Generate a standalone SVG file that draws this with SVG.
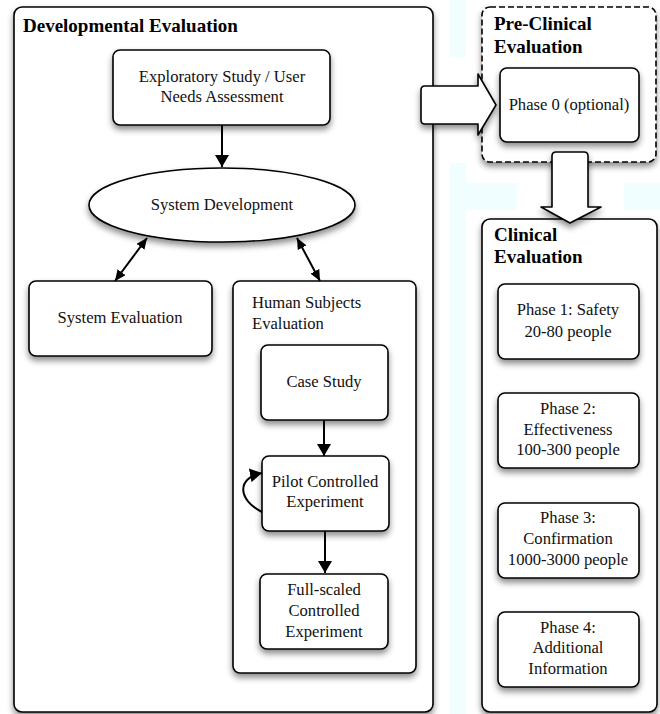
<svg xmlns="http://www.w3.org/2000/svg" width="660" height="714" viewBox="0 0 660 714">
<defs>
<filter id="sh" x="-20%" y="-20%" width="140%" height="140%">
<feDropShadow dx="0" dy="4" stdDeviation="3" flood-color="#000" flood-opacity="0.45"/>
</filter>
<marker id="ah" viewBox="0 0 12 14" refX="12" refY="7" markerWidth="12" markerHeight="14" markerUnits="userSpaceOnUse" orient="auto-start-reverse">
<path d="M0,0 L12,7 L0,14 z" fill="#000"/>
</marker>
<marker id="ah2" viewBox="0 0 11 10" refX="11" refY="5" markerWidth="11" markerHeight="10" markerUnits="userSpaceOnUse" orient="auto-start-reverse">
<path d="M0,0 L11,5 L0,10 z" fill="#000"/>
</marker>
</defs>
<style>
.box{fill:#fff;stroke:#000;stroke-width:1.6;filter:url(#sh)}
.t{font-family:"Liberation Serif","Times New Roman",serif;font-size:16.6px;fill:#111}
.c{text-anchor:middle}
.b{font-weight:bold;font-size:19px;fill:#000}
.ln{fill:none;stroke:#000;stroke-width:2}
.bg{fill:#f0feff}
</style>
<rect width="660" height="714" fill="#fff"/>
<g id="background">
<rect class="bg" x="450" y="0" width="16" height="57"/>
<rect class="bg" x="450" y="163" width="16" height="551"/>
<rect class="bg" x="466" y="183" width="51" height="27"/>
<rect class="bg" x="624" y="183" width="36" height="27"/>
</g>
<g id="developmental">
<rect class="box" x="14" y="7" width="419" height="705" rx="8" stroke-width="2"/>
<text class="t b" x="23" y="32">Developmental Evaluation</text>
</g>
<g id="exploratory">
<rect class="box" x="113" y="50" width="217" height="75" rx="7"/>
<text class="t c" x="222" y="82">Exploratory Study / User</text>
<text class="t c" x="222" y="102">Needs Assessment</text>
</g>
<g id="sysdev">
<ellipse class="box" cx="222" cy="205" rx="133" ry="37"/>
<text class="t c" x="222" y="210">System Development</text>
</g>
<g id="syseval">
<rect class="box" x="29" y="281" width="183" height="75" rx="7"/>
<text class="t c" x="120" y="323">System Evaluation</text>
</g>
<g id="human">
<rect class="box" x="233" y="281" width="183" height="392" rx="7"/>
<text class="t" x="252" y="308">Human Subjects</text>
<text class="t" x="252" y="329">Evaluation</text>
</g>
<g id="casestudy">
<rect class="box" x="261" y="345" width="127" height="75" rx="7"/>
<text class="t c" x="324" y="387">Case Study</text>
</g>
<g id="pilot">
<rect class="box" x="262" y="456" width="127" height="75" rx="7"/>
<text class="t c" x="325" y="487">Pilot Controlled</text>
<text class="t c" x="325" y="507">Experiment</text>
</g>
<g id="fullscaled">
<rect class="box" x="260" y="574" width="128" height="75" rx="7"/>
<text class="t c" x="324" y="595">Full-scaled</text>
<text class="t c" x="324" y="616">Controlled</text>
<text class="t c" x="324" y="637">Experiment</text>
</g>
<g id="preclinical">
<rect x="482" y="7" width="174" height="155" rx="8" fill="#fff" stroke="#000" stroke-width="1.6" stroke-dasharray="6,3" filter="url(#sh)"/>
<text class="t b" x="494" y="30">Pre-Clinical</text>
<text class="t b" x="494" y="53">Evaluation</text>
</g>
<g id="phase0">
<rect class="box" x="500" y="68" width="139" height="74" rx="7"/>
<text class="t c" x="569" y="110">Phase 0 (optional)</text>
</g>
<g id="clinical">
<rect class="box" x="482" y="219" width="175" height="493" rx="8"/>
<text class="t b" x="494" y="241">Clinical</text>
<text class="t b" x="494" y="263">Evaluation</text>
</g>
<g id="phase1">
<rect class="box" x="498" y="284" width="141" height="75" rx="7"/>
<text class="t c" x="568" y="315">Phase 1: Safety</text>
<text class="t c" x="568" y="337">20-80 people</text>
</g>
<g id="phase2">
<rect class="box" x="498" y="393" width="141" height="75" rx="7"/>
<text class="t c" x="568" y="414">Phase 2:</text>
<text class="t c" x="568" y="435">Effectiveness</text>
<text class="t c" x="568" y="455">100-300 people</text>
</g>
<g id="phase3">
<rect class="box" x="498" y="503" width="141" height="75" rx="7"/>
<text class="t c" x="568" y="523">Phase 3:</text>
<text class="t c" x="568" y="544">Confirmation</text>
<text class="t c" x="568" y="565">1000-3000 people</text>
</g>
<g id="phase4">
<rect class="box" x="498" y="612" width="141" height="75" rx="7"/>
<text class="t c" x="568" y="633">Phase 4:</text>
<text class="t c" x="568" y="653">Additional</text>
<text class="t c" x="568" y="674">Information</text>
</g>
<g id="connectors">
<line class="ln" x1="222" y1="125" x2="222" y2="167" marker-end="url(#ah)"/>
<line class="ln" x1="147" y1="238" x2="115" y2="281" stroke-width="1.6" marker-start="url(#ah2)" marker-end="url(#ah2)"/>
<line class="ln" x1="297" y1="238" x2="320" y2="281" stroke-width="1.6" marker-start="url(#ah2)" marker-end="url(#ah2)"/>
<line class="ln" x1="324" y1="420" x2="324" y2="456" marker-end="url(#ah)"/>
<line class="ln" x1="325" y1="531" x2="325" y2="573" marker-end="url(#ah)"/>
<path class="ln" d="M262,512 C238,500 236,478 262,473" marker-end="url(#ah)"/>
<path d="M425,86 L478,86 L478,74 L496,105 L478,135 L478,124 L425,124 Q421,124 421,120 L421,90 Q421,86 425,86 Z" fill="#fff" stroke="#000" stroke-width="1.6" stroke-linejoin="round" filter="url(#sh)"/>
<path d="M556,152 L584,152 Q588,152 588,156 L588,207 L601,207 L570,223 L541,207 L552,207 L552,156 Q552,152 556,152 Z" fill="#fff" stroke="#000" stroke-width="1.6" stroke-linejoin="round" filter="url(#sh)"/>
</g>
</svg>
